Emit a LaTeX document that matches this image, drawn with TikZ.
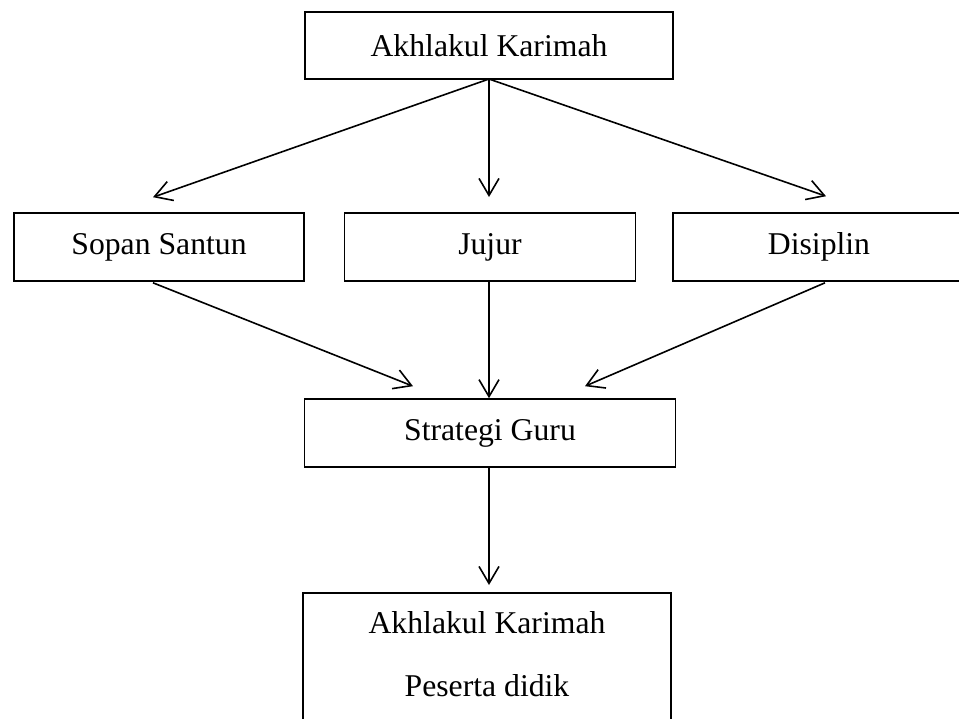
\documentclass[tikz,border=0pt]{standalone}
\usepackage{fontspec}
\setmainfont{Liberation Serif}
\usetikzlibrary{arrows.meta,calc}
\begin{document}
\begin{tikzpicture}[x=1pt,y=-1pt,
  box/.style={draw,line width=1.6pt,minimum height=68pt,inner sep=0pt,
    font=\fontsize{31.7pt}{63pt}\selectfont},
  conn/.style={line width=1.6pt,-{Straight Barb[length=17pt,width=20pt,line width=1.6pt]}}]
\clip (0,0) rectangle (959,718);
\fill[white] (0,0) rectangle (959,718);
\node[box,minimum width=368pt,minimum height=67pt] (top) at (489,45.5) {Akhlakul Karimah};
\node[box,minimum width=290pt] (sopan) at (159,247) {Sopan Santun};
\node[box,minimum width=291pt] (jujur) at (490,247) {Jujur};
\node[box,minimum width=292pt] (disiplin) at (819,247) {Disiplin};
\node[box,minimum width=371pt] (strategi) at (490,433) {Strategi Guru};
\node[box,minimum width=368pt,anchor=north,inner ysep=18.3pt,text depth=80pt,align=center]
  (peserta) at (487,592) {Akhlakul Karimah\\Peserta didik};
\coordinate (o) at (489,79);
\draw[conn] (o) -- ($(sopan.north)+(-6,-15)$);
\draw[conn] (o) -- (489,197) coordinate (jt);
\draw[conn] (o) -- ($(disiplin.north)+(7,-16)$);
\draw[conn] ($(sopan.south)+(-6,1)$) -- ($(strategi.north)+(-77,-12)$);
\draw[conn] (jujur.south -| o) -- (strategi.north -| o);
\draw[conn] ($(disiplin.south)+(6,1)$) -- ($(strategi.north)+(95,-12)$);
\draw[conn] (strategi.south -| o) -- ($(peserta.north -| o)+(0,-7)$);
\end{tikzpicture}
\end{document}
